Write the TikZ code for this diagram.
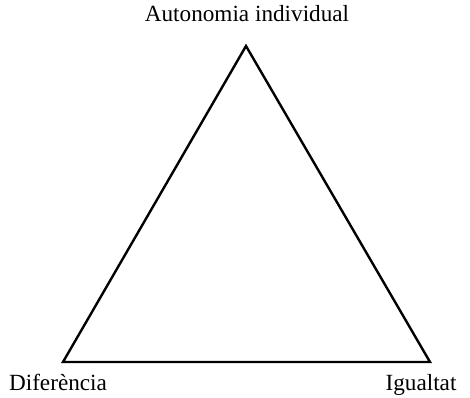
\documentclass[tikz,border=0pt]{standalone}
\usepackage{fontspec}
\setmainfont{Liberation Serif}
\usetikzlibrary{positioning}
\tikzset{vlabel/.style={font=\fontsize{17.4}{20}\selectfont,inner sep=0pt}}

\begin{document}
\begin{tikzpicture}[x=0.75pt,y=-0.75pt,line join=miter]
\useasboundingbox (0,0) rectangle (470,398);
% --- triangle corners
\coordinate (apex) at (246,46);
\coordinate (left) at (63,362);
\coordinate (right) at (430,362);
\draw[line width=1.8pt] (apex) -- (left) -- (right) -- cycle;
% --- labels
\node[vlabel,anchor=base] (aut) at (247,22) {Autonomia individual};
\node[vlabel,anchor=base] (dif) at (58,390) {Diferència};
\node[vlabel,anchor=base] (igu) at (421,390) {Igualtat};
\end{tikzpicture}
\end{document}
